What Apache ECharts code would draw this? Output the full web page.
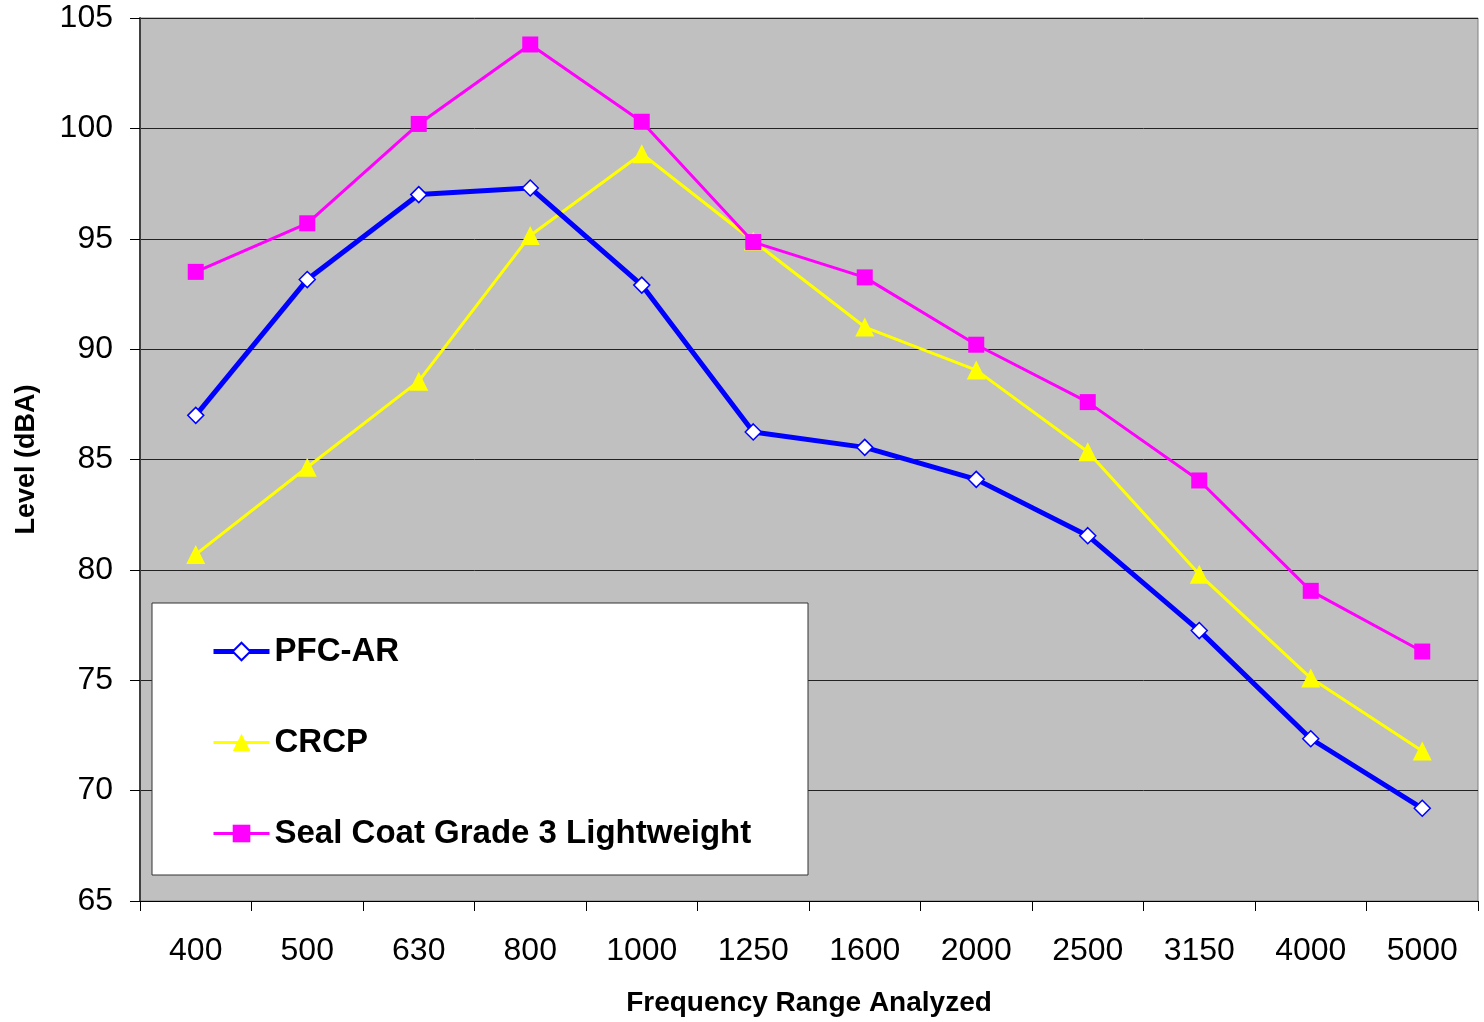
<!DOCTYPE html>
<html>
<head>
<meta charset="utf-8">
<script src="https://cdn.jsdelivr.net/npm/echarts@6/dist/echarts.min.js"></script>
<style>html,body{margin:0;padding:0;background:#fff}#c{width:1484px;height:1022px}</style>
</head>
<body>
<div id="c"></div>
<script>
const categories = ['400','500','630','800','1000','1250','1600','2000','2500','3150','4000','5000'];
const pfcAr = [87.0, 93.15, 97.0, 97.3, 92.9, 86.25, 85.55, 84.1, 81.55, 77.25, 72.35, 69.2];
const crcp = [80.7, 84.65, 88.55, 95.15, 98.85, 94.9, 91.0, 89.05, 85.35, 79.8, 75.1, 71.8];
const sealCoat = [93.5, 95.7, 100.2, 103.8, 100.3, 94.85, 93.25, 90.2, 87.6, 84.05, 79.05, 76.3];
const seriesNames = ['PFC-AR', 'CRCP', 'Seal Coat Grade 3 Lightweight'];
const yMin = 65, yMax = 105, yStep = 5;

const FONT = '"Liberation Sans", Arial, sans-serif';
const chart = echarts.init(document.getElementById('c'), null, {renderer: 'canvas'});
chart.setOption({
  animation: false,
  backgroundColor: '#ffffff',
  grid: {
    left: 140, right: 6, top: 18, bottom: 119,
    show: true, backgroundColor: '#C0C0C0', borderColor: '#808080', borderWidth: 1
  },
  graphic: [{
    type: 'rect', z: 3, zlevel: 0,
    shape: {x: 152, y: 603, width: 656, height: 272},
    style: {fill: '#ffffff', stroke: '#333333', lineWidth: 1}
  }],
  legend: {
    z: 10,
    orient: 'vertical',
    left: 152, top: 603,
    padding: [32, 40, 27, 59],
    itemGap: 58,
    itemWidth: 56, itemHeight: 22,
    textStyle: {fontFamily: FONT, fontSize: 33, fontWeight: 'bold', color: '#000', lineHeight: 32},
    data: [
      {name: seriesNames[0], lineStyle: {width: 5}},
      {name: seriesNames[1], lineStyle: {width: 3}},
      {name: seriesNames[2], lineStyle: {width: 3}}
    ]
  },
  xAxis: {
    type: 'category',
    data: categories,
    boundaryGap: true,
    name: 'Frequency Range Analyzed',
    nameLocation: 'middle',
    nameGap: 88,
    nameTextStyle: {fontFamily: FONT, fontSize: 28, fontWeight: 'bold', color: '#000'},
    axisLine: {show: true, lineStyle: {color: '#000', width: 1}},
    axisTick: {show: true, inside: false, length: 10, interval: 0, lineStyle: {color: '#000'}},
    axisLabel: {fontFamily: FONT, fontSize: 32, color: '#000', margin: 34, interval: 0},
    splitLine: {show: false}
  },
  yAxis: {
    type: 'value',
    min: yMin, max: yMax, interval: yStep,
    name: 'Level (dBA)',
    nameLocation: 'middle',
    nameRotate: 90,
    nameGap: 100,
    nameTextStyle: {fontFamily: FONT, fontSize: 27, fontWeight: 'bold', color: '#000'},
    axisLine: {show: true, lineStyle: {color: '#404040', width: 2}},
    axisTick: {show: true, inside: false, length: 10, lineStyle: {color: '#000'}},
    axisLabel: {fontFamily: FONT, fontSize: 32, color: '#000', margin: 27},
    splitLine: {show: true, lineStyle: {color: '#222', width: 1}}
  },
  series: [
    {
      name: seriesNames[0], type: 'line', data: pfcAr, z: 5,
      symbol: 'diamond', symbolSize: 16, showAllSymbol: true,
      lineStyle: {color: '#0000FF', width: 5},
      itemStyle: {color: '#ffffff', borderColor: '#0000FF', borderWidth: 1.5}
    },
    {
      name: seriesNames[1], type: 'line', data: crcp, z: 4,
      symbol: 'triangle', symbolSize: 19, showAllSymbol: true,
      lineStyle: {color: '#FFFF00', width: 3},
      itemStyle: {color: '#FFFF00', borderWidth: 0}
    },
    {
      name: seriesNames[2], type: 'line', data: sealCoat, z: 4,
      symbol: 'rect', symbolSize: 16, showAllSymbol: true,
      lineStyle: {color: '#FF00FF', width: 3},
      itemStyle: {color: '#FF00FF', borderWidth: 0}
    }
  ]
});
</script>
</body>
</html>
